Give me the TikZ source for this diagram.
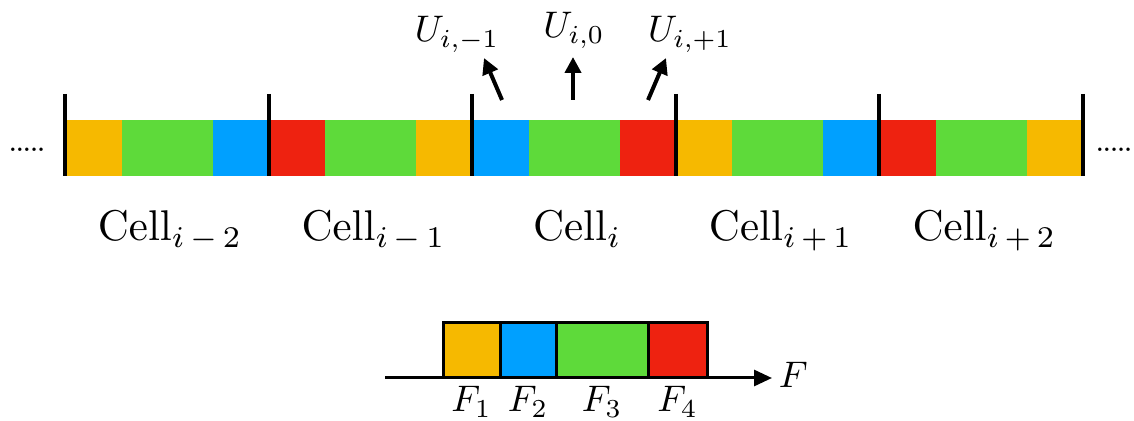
\documentclass[tikz,border=0pt]{standalone}
\usepackage{tikz}
\usetikzlibrary{arrows.meta, positioning, calc}
\definecolor{fluxYellow}{RGB}{246, 185, 0}
\definecolor{fluxGreen}{RGB}{94, 218, 58}
\definecolor{fluxBlue}{RGB}{0, 160, 255}
\definecolor{fluxRed}{RGB}{238, 34, 16}

\begin{document}
\begin{tikzpicture}[
    x=0.5pt, y=-0.5pt,
    celltick/.style={line width=2pt},
    arrow/.style={-{Triangle[length=8pt, width=8pt]}, line width=2pt},
    cellname/.style={scale=2.15, transform shape, anchor=base, inner sep=0pt},
    ulabel/.style={scale=1.85, transform shape, anchor=base, inner sep=0pt},
    flabel/.style={scale=1.85, transform shape, anchor=base, inner sep=0pt},
    fbox/.style={rectangle, draw=black, line width=1.5pt, inner sep=0pt,
      outer sep=0pt, minimum height=27.5pt, anchor=south west},
    dots/.style={font=\bfseries, scale=1.1, transform shape, inner sep=0pt},
  ]
    \useasboundingbox (0,0) rectangle (1134,421);

    % Cells of the strip
    \foreach \k/\ca/\cc/\lab in {0/fluxYellow/fluxBlue/{i\,-\,2}, 1/fluxRed/fluxYellow/{i\,-\,1},
        2/fluxBlue/fluxRed/{i}, 3/fluxYellow/fluxBlue/{i\,+\,1}, 4/fluxRed/fluxYellow/{i\,+\,2}} {
      \fill[\ca] ({65+203.6*\k},120) rectangle ++(56.5,56);
      \fill[fluxGreen] ({121.5+203.6*\k},120) rectangle ++(91,56);
      \fill[\cc] ({212.5+203.6*\k},120) rectangle ++(56.1,56);
      \node[cellname] (cell\k) at ({170+203.6*\k},241) {$\mathrm{Cell}_{\lab}$};
    }

    % Cell boundaries
    \foreach \k in {0,...,5}
      \draw[celltick] ({65+203.6*\k},94) -- ({65+203.6*\k},176);

    % Continuation dots
    \node[dots] (dotsleft) at (27,150) {.....};
    \node[dots] (dotsright) at (1114,150) {.....};

    % Values at the cell i
    \coordinate (um1s) at (502,100);
    \coordinate (um1e) at (484,58);
    \coordinate (u0s) at (573,100);
    \coordinate (u0e) at (573,57);
    \coordinate (up1s) at (648,100);
    \coordinate (up1e) at (666,58);
    \node[ulabel] (um1) at (457,42) {$U_{i,-1}$};
    \node[ulabel] (u0) at (574,38) {$U_{i,0}$};
    \node[ulabel] (up1) at (690,42) {$U_{i,+1}$};
    \draw[arrow] (um1s) -- (um1e);
    \draw[arrow] (u0s) -- (u0e);
    \draw[arrow] (up1s) -- (up1e);

    % Flux axis
    \coordinate (axstart) at (385,378);
    \coordinate (axend) at (772,378);
    \draw[-{Triangle[length=9pt, width=8pt]}, line width=1.5pt] (axstart) -- (axend);
    \node[flabel, anchor=base west] (faxis) at (778,388) {$F$};

    % Flux bins
    \node[fbox, fill=fluxYellow, minimum width=28.5pt] (f1) at (443,378) {};
    \node[fbox, fill=fluxBlue, minimum width=28pt] (f2) at (f1.south east) {};
    \node[fbox, fill=fluxGreen, minimum width=46pt] (f3) at (f2.south east) {};
    \node[fbox, fill=fluxRed, minimum width=29.5pt] (f4) at (f3.south east) {};
    \node[flabel] (f1lab) at (f1.south |- 0,412) {$F_1$};
    \node[flabel] (f2lab) at (f2.south |- 0,412) {$F_2$};
    \node[flabel] (f3lab) at (f3.south |- 0,412) {$F_3$};
    \node[flabel] (f4lab) at (f4.south |- 0,412) {$F_4$};
  \end{tikzpicture}
\end{document}
